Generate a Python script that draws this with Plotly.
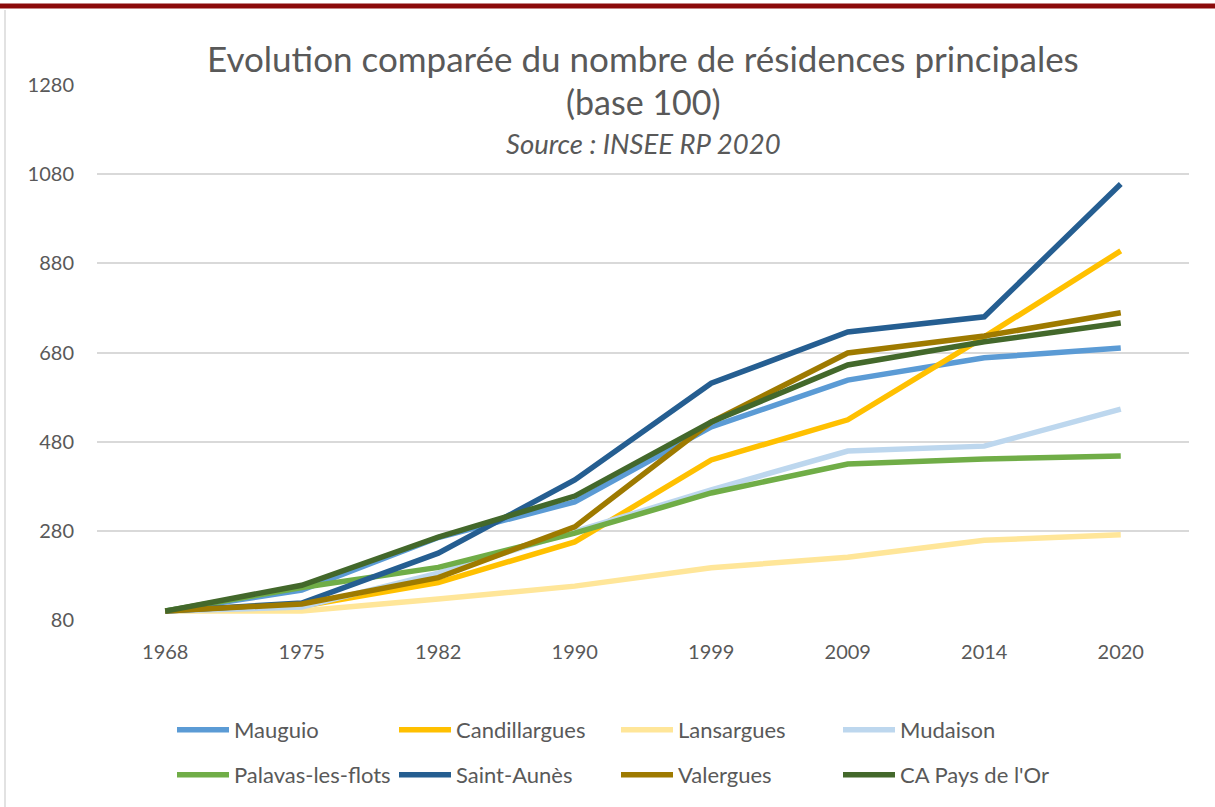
import plotly.graph_objects as go

years = ["1968", "1975", "1982", "1990", "1999", "2009", "2014", "2020"]

mauguio = [100, 147, 265, 345, 513, 618, 668, 690]
candillargues = [100, 111, 164, 255, 439, 529, 715, 908]
lansargues = [100, 100, 127, 156, 197, 221, 259, 271]
mudaison = [100, 109, 185, 277, 372, 459, 470, 553]
palavas = [100, 153, 198, 275, 365, 430, 441, 448]
saint_aunes = [100, 118, 230, 394, 611, 726, 760, 1058]
valergues = [100, 116, 175, 289, 524, 679, 717, 769]
ca_pays_or = [100, 158, 266, 358, 524, 652, 704, 746]

series = [
    ("Mauguio", mauguio, "#5B9BD5"),
    ("Candillargues", candillargues, "#FFC000"),
    ("Lansargues", lansargues, "#FFE699"),
    ("Mudaison", mudaison, "#BDD7EE"),
    ("Palavas-les-flots", palavas, "#70AD47"),
    ("Saint-Aunès", saint_aunes, "#255E91"),
    ("Valergues", valergues, "#9E7A00"),
    ("CA Pays de l'Or", ca_pays_or, "#43682B"),
]

y_ticks = [80, 280, 480, 680, 880, 1080, 1280]

FONT = "Lato"
GREY = "#595959"
fig = go.Figure()
for i, (name, vals, col) in enumerate(series):
    fig.add_trace(go.Scatter(x=years, y=vals, name=name, mode="lines",
                             legend="legend" if i < 4 else "legend2",
                             line=dict(color=col, width=5.5)))

L, R, T, B = 97, 26, 85, 187
W, H = 1215, 807
pw, ph = W - L - R, H - T - B

def px(x):
    return (x - L) / pw

def py(y):
    return (H - B - y) / ph

leg_common = dict(orientation="h", xanchor="left", yanchor="middle",
                  entrywidth=155, entrywidthmode="pixels", itemwidth=52,
                  font=dict(size=22, color=GREY, family=FONT), bgcolor="rgba(0,0,0,0)")

fig.update_layout(
    width=W, height=H,
    margin=dict(l=L, r=R, t=T, b=B, autoexpand=False),
    paper_bgcolor="white", plot_bgcolor="white",
    font=dict(family=FONT, color=GREY, size=19),
    showlegend=True,
    legend=dict(x=px(172), y=py(730), **leg_common),
    legend2=dict(x=px(172), y=py(775), **leg_common),
    xaxis=dict(type="category", range=[-0.5, 7.5], showgrid=False, showline=False, ticks="",
               tickfont=dict(size=20, color=GREY), ticklabelstandoff=18),
    yaxis=dict(range=[80, 1280], tickvals=y_ticks, showgrid=True, gridcolor="#D9D9D9",
               gridwidth=1.5, zeroline=False, showline=False, ticks="",
               tickfont=dict(size=20, color=GREY), ticklabelstandoff=22),
    annotations=[
        dict(text="Evolution comparée du nombre de résidences principales", x=0.5, y=py(58),
             xref="paper", yref="paper", showarrow=False, yanchor="middle",
             font=dict(size=35, color=GREY)),
        dict(text="(base 100)", x=0.5, y=py(101), xref="paper", yref="paper",
             showarrow=False, yanchor="middle", font=dict(size=34, color=GREY)),
        dict(text="<i>Source : INSEE RP 2020</i>", x=0.5, y=py(143), xref="paper", yref="paper",
             showarrow=False, yanchor="middle", font=dict(size=27.5, color=GREY)),
    ],
    shapes=[
        dict(type="line", xref="paper", yref="paper", x0=px(0), x1=px(W), y0=py(6), y1=py(6),
             line=dict(color="#8B0A0A", width=5)),
        dict(type="line", xref="paper", yref="paper", x0=px(5), x1=px(5), y0=py(10), y1=py(H),
             line=dict(color="#D9D9D9", width=1.5)),
    ],
)

fig.write_html("out.html", config={"displayModeBar": False},
               post_script="document.body.style.margin='0';")
